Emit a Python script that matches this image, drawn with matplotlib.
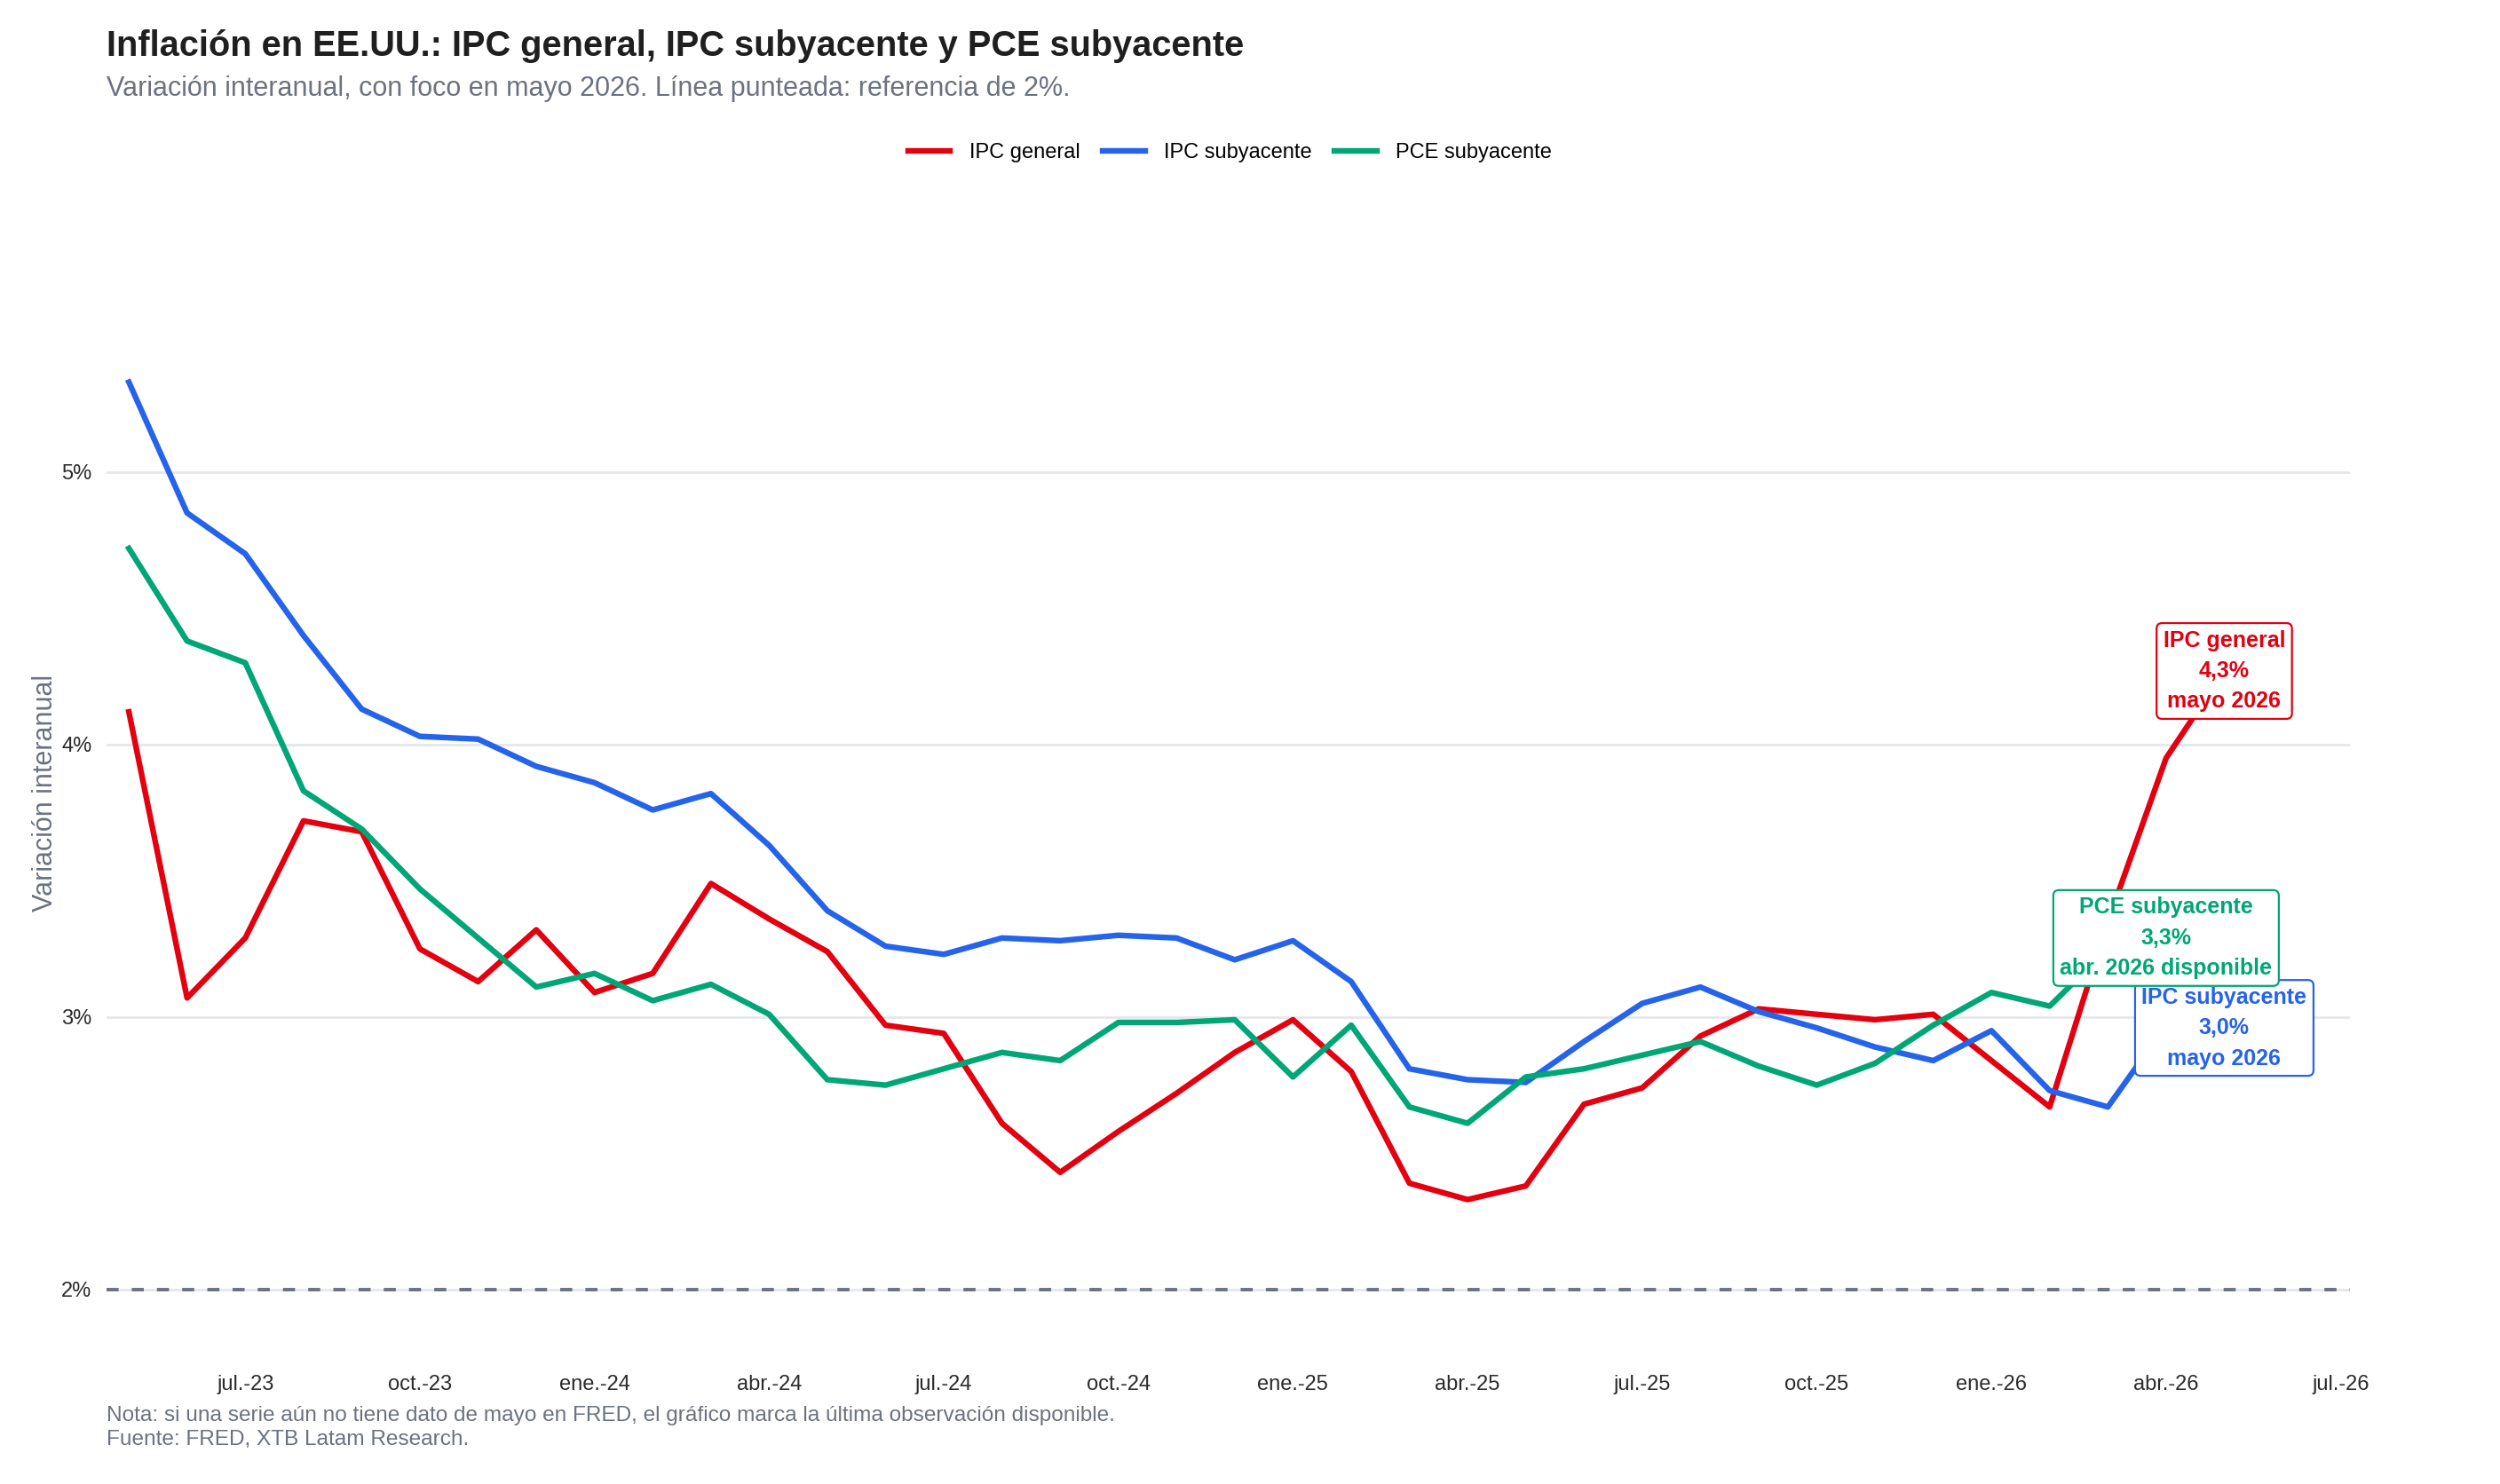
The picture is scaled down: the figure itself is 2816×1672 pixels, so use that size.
import numpy as np
import pandas as pd
import matplotlib
matplotlib.use("Agg")
import matplotlib.pyplot as plt

plt.rcParams['font.family'] = ['Liberation Sans', 'DejaVu Sans']

# datos mensuales (variación interanual, %), desde mayo 2023
meses = pd.date_range('2023-05-01', '2026-05-01', freq='MS')

ipc_general = [4.12, 3.07, 3.29, 3.72, 3.68, 3.25, 3.13, 3.32, 3.09, 3.16, 3.49, 3.36,
               3.24, 2.97, 2.94, 2.61, 2.43, 2.58, 2.72, 2.87, 2.99, 2.80, 2.39, 2.33,
               2.38, 2.68, 2.74, 2.93, 3.03, 3.01, 2.99, 3.01, 2.84, 2.67, 3.35, 3.95, 4.27]
ipc_subyacente = [5.33, 4.85, 4.70, 4.40, 4.13, 4.03, 4.02, 3.92, 3.86, 3.76, 3.82, 3.63,
                  3.39, 3.26, 3.23, 3.29, 3.28, 3.30, 3.29, 3.21, 3.28, 3.13, 2.81, 2.77,
                  2.76, 2.91, 3.05, 3.11, 3.02, 2.96, 2.89, 2.84, 2.95, 2.73, 2.67, 2.97, 2.96]
pce_subyacente = [4.72, 4.38, 4.30, 3.83, 3.69, 3.47, 3.29, 3.11, 3.16, 3.06, 3.12, 3.01,
                  2.77, 2.75, 2.81, 2.87, 2.84, 2.98, 2.98, 2.99, 2.78, 2.97, 2.67, 2.61,
                  2.78, 2.81, 2.86, 2.91, 2.82, 2.75, 2.83, 2.97, 3.09, 3.04, 3.25, 3.29]

series = ['IPC general', 'IPC subyacente', 'PCE subyacente']
colores = ['#E3000F', '#2563EB', '#00A676']
valores = [ipc_general, ipc_subyacente, pce_subyacente]
notas_fecha = ['mayo 2026', 'mayo 2026', 'abr. 2026 disponible']

tick_pos = [2, 5, 8, 11, 14, 17, 20, 23, 26, 29, 32, 35, 38]
tick_labels = ['jul.-23', 'oct.-23', 'ene.-24', 'abr.-24', 'jul.-24', 'oct.-24', 'ene.-25',
               'abr.-25', 'jul.-25', 'oct.-25', 'ene.-26', 'abr.-26', 'jul.-26']

fig = plt.figure(figsize=(14.08, 8.36), dpi=200)
ax = fig.add_axes([0.0427, 0.087, 0.8973, 0.773])

for nombre, col, vals in zip(series, colores, valores):
    x = np.arange(len(vals))
    ax.plot(x, vals, color=col, lw=2.3, label=nombre, zorder=3)

ax.axhline(2, color='#6B7280', lw=1.4, dashes=(3.5, 3.8), zorder=2)

# etiquetas en la última observación de cada serie
for nombre, col, vals, fecha in zip(series, colores, valores, notas_fecha):
    i = len(vals) - 1
    valor = f"{vals[i]:.1f}%".replace('.', ',')
    txt = f"{nombre}\n{valor}\n{fecha}"
    ax.text(i, vals[i], txt, color=col, fontsize=9, fontweight='bold', ha='center', va='center',
            linespacing=1.55, zorder=5,
            bbox=dict(boxstyle='round,pad=0.3,rounding_size=0.25', fc='white', ec=col, lw=0.8))

ax.set_xlim(-0.38, 38.16)
ax.set_ylim(1.76, 5.97)
ax.set_yticks([2, 3, 4, 5])
ax.set_yticklabels(['2%', '3%', '4%', '5%'])
ax.set_xticks(tick_pos)
ax.set_xticklabels(tick_labels)
ax.tick_params(axis='both', length=0, labelsize=8.5, colors='#2B2B2B')
ax.tick_params(axis='x', pad=8)
ax.tick_params(axis='y', pad=6)
ax.grid(axis='y', color='#E5E7EB', lw=1.0)
ax.set_axisbelow(True)
for s in ax.spines.values():
    s.set_visible(False)

ax.set_ylabel('Variación interanual', fontsize=11, color='#6B7280')
ax.yaxis.set_label_coords(-0.0215, 0.49)

fig.text(0.0427, 0.969, 'Inflación en EE.UU.: IPC general, IPC subyacente y PCE subyacente',
         fontsize=14.3, fontweight='bold', color='#1F1F1F', va='center')
fig.text(0.0427, 0.940, 'Variación interanual, con foco en mayo 2026. Línea punteada: referencia de 2%.',
         fontsize=11, color='#6B7280', va='center')

fig.legend(loc='center', bbox_to_anchor=(0.492, 0.897), ncol=3, frameon=False, fontsize=8.5,
           handlelength=2.0, handletextpad=0.9, columnspacing=1.1)

fig.text(0.0427, 0.046, 'Nota: si una serie aún no tiene dato de mayo en FRED, el gráfico marca la última observación disponible.',
         fontsize=8.8, color='#6B7280', va='center')
fig.text(0.0427, 0.030, 'Fuente: FRED, XTB Latam Research.', fontsize=8.8, color='#6B7280', va='center')

fig.savefig('out.png', dpi=200)
